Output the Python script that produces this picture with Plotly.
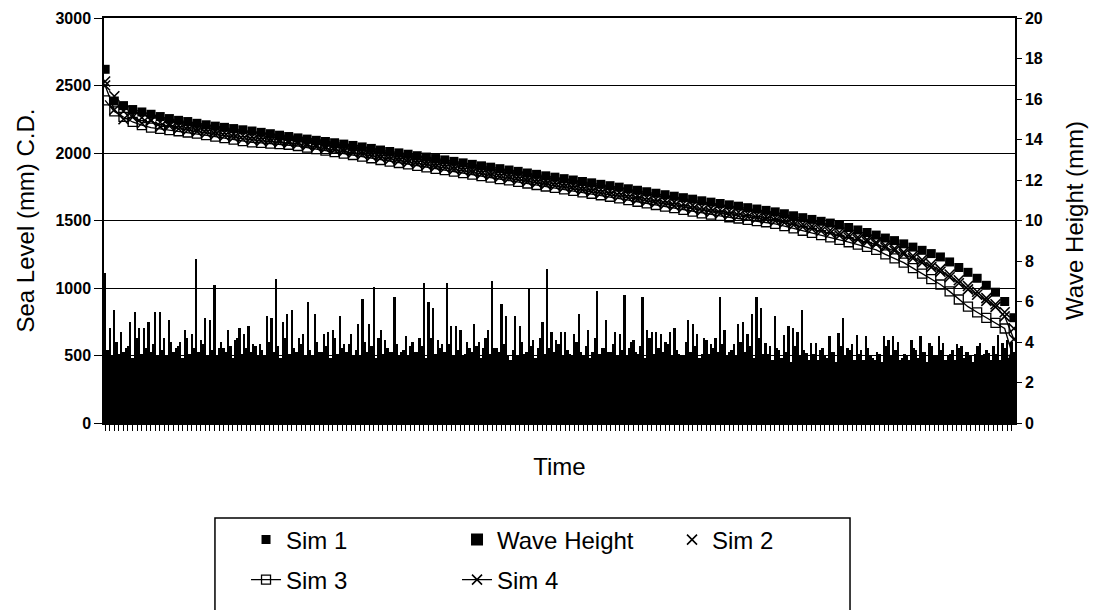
import numpy as np
import plotly.graph_objects as go

# wave height per time step (mm), read left to right
wave = [7.4, 3.6, 4.7, 3.3, 5.6, 4.0, 3.4, 4.5, 3.5, 3.7, 3.8, 5.0, 3.2, 5.5, 4.2, 4.7, 3.4, 4.7, 3.7, 5.0,
        3.5, 3.9, 5.5, 3.3, 5.5, 3.6, 4.2, 3.3, 5.1, 4.0, 3.5, 3.7, 3.8, 4.0, 3.2, 4.6, 4.2, 3.4, 4.4, 3.7,
        8.1, 3.5, 4.1, 3.9, 5.2, 3.3, 5.1, 3.6, 6.8, 3.3, 3.7, 4.0, 3.7, 3.5, 4.6, 3.8, 3.2, 4.1, 4.2, 4.7,
        3.4, 4.4, 3.7, 4.8, 3.5, 3.9, 3.8, 3.3, 3.9, 3.6, 3.3, 5.3, 4.0, 5.2, 3.5, 7.1, 3.8, 3.2, 5.0, 4.2,
        5.4, 3.4, 5.6, 3.7, 3.5, 4.2, 3.9, 4.4, 3.3, 6.0, 3.6, 3.3, 5.4, 4.0, 3.5, 3.5, 4.4, 3.8, 4.5, 3.2,
        4.6, 4.2, 3.4, 5.3, 3.7, 3.9, 3.5, 3.9, 4.4, 3.3, 3.6, 4.9, 3.3, 6.1, 4.0, 3.5, 4.9, 3.8, 6.7, 3.2,
        4.2, 4.6, 3.4, 4.1, 3.7, 3.5, 3.5, 6.2, 3.9, 3.3, 3.5, 3.6, 4.3, 3.3, 3.8, 4.0, 3.5, 3.5, 4.2, 3.8,
        6.9, 3.2, 6.0, 4.2, 5.7, 3.4, 4.1, 3.7, 3.9, 3.5,
        6.9, 3.9, 4.8, 3.3, 4.8, 3.6, 4.6, 3.3, 3.4, 4.0, 3.7, 3.5, 4.9, 3.8, 4.0, 3.2, 3.7, 4.2, 4.6, 3.4,
        7.0, 3.7, 3.7, 3.5, 5.9, 3.9, 5.3, 3.3, 3.1, 3.6, 5.3, 3.3, 4.8, 4.0, 3.4, 3.5, 6.6, 3.8, 4.1, 3.2,
        3.7, 4.2, 5.0, 3.4, 7.6, 3.7, 4.5, 3.5, 4.1, 3.9, 4.5, 3.3, 4.5, 3.6, 3.4, 3.3, 4.4, 4.0, 5.4, 3.5,
        3.3, 3.8, 4.6, 3.2, 3.5, 4.2, 6.5, 3.4, 3.7, 3.7, 5.1, 3.5, 3.5, 3.9, 4.5, 3.3, 4.4, 3.6, 6.3, 3.3,
        3.7, 4.0, 4.1, 3.5, 3.4, 3.8, 6.2, 3.2, 4.6, 4.2, 4.5, 3.4, 4.5, 3.7, 4.4, 3.5, 4.0, 3.9, 4.5, 3.3,
        4.7, 3.6, 3.4, 3.3, 3.3, 4.0, 5.1, 3.5, 4.9, 3.8, 4.4, 3.2, 3.4, 4.2, 4.1, 3.4, 3.9, 3.7, 4.2, 3.5,
        6.2, 3.9, 4.6, 3.3, 3.5, 3.6, 3.9, 3.3, 4.9, 4.0, 5.0, 3.5, 4.4, 3.8, 5.4, 3.2, 6.2, 4.2, 5.7, 3.4,
        3.95, 3.4, 3.8, 3.1, 5.3, 3.7, 3.6, 3.2, 4.35, 3.5, 4.8, 3.0, 4.7, 3.8, 4.5, 3.3, 5.6, 3.6, 3.45, 3.1,
        3.95, 3.4, 3.95, 3.1, 3.6, 3.7, 3.3, 3.2, 4.3, 3.5, 3.5, 3.0, 4.45, 3.8, 5.2, 3.3, 3.7, 3.6, 3.9, 3.1,
        4.35, 3.4, 3.6, 3.1, 4.3, 3.7, 3.3, 3.2, 3.1, 3.5, 3.4, 3.0, 4.3, 3.8, 4.1, 3.3, 4.3, 3.6, 4.0, 3.1,
        3.2, 3.4, 3.3, 3.1, 4.1, 3.7, 3.6, 3.2, 4.3, 3.5, 3.5, 3.0, 3.95, 3.8, 3.3, 3.3, 4.3, 3.6, 3.95, 3.1,
        3.3, 3.4, 3.6, 3.1, 3.9, 3.7, 3.8, 3.2, 3.5, 3.5, 3.3, 3.0, 3.4, 3.8, 3.95, 3.3, 3.4, 3.6, 3.45, 3.1,
        3.8, 3.4, 4.35, 3.1, 3.95, 3.7, 4.1, 3.2, 4.0, 3.5]

# simulated sea level (mm C.D.), 100 samples spread over the same period
sim1 = [2620, 2385, 2351, 2322, 2304, 2287, 2270, 2255, 2242, 2233, 2220, 2209, 2199, 2190, 2181, 2172, 2163, 2153, 2143, 2132,
        2122, 2112, 2103, 2094, 2085, 2076, 2066, 2056, 2045, 2034, 2022, 2011, 2001, 1991, 1980, 1970, 1959, 1949, 1938, 1927,
        1916, 1905, 1895, 1884, 1874, 1864, 1852, 1842, 1831, 1821, 1810, 1800, 1789, 1779, 1768, 1758, 1747, 1735, 1724, 1713,
        1702, 1691, 1680, 1669, 1658, 1646, 1636, 1626, 1616, 1606, 1595, 1585, 1575, 1564, 1550, 1535, 1521, 1508, 1494, 1481,
        1466, 1448, 1430, 1411, 1392, 1370, 1351, 1327, 1303, 1279, 1255, 1230, 1193, 1152, 1116, 1072, 1020, 969, 900, 780]
sim2 = [2530, 2420, 2310, 2280, 2262, 2245, 2228, 2214, 2203, 2194, 2182, 2171, 2160, 2150, 2140, 2130, 2121, 2114, 2107, 2099,
        2092, 2082, 2072, 2062, 2052, 2042, 2031, 2021, 2009, 1998, 1985, 1974, 1964, 1953, 1942, 1932, 1921, 1911, 1900, 1889,
        1878, 1867, 1857, 1846, 1836, 1825, 1813, 1803, 1792, 1781, 1771, 1760, 1749, 1739, 1728, 1717, 1706, 1693, 1682, 1670,
        1659, 1647, 1636, 1624, 1612, 1600, 1590, 1580, 1570, 1561, 1550, 1541, 1531, 1520, 1505, 1488, 1472, 1458, 1443, 1428,
        1411, 1394, 1376, 1358, 1338, 1315, 1292, 1266, 1238, 1208, 1176, 1140, 1100, 1057, 1015, 972, 925, 880, 820, 700]
sim3 = [2390, 2308, 2267, 2230, 2207, 2188, 2179, 2170, 2161, 2152, 2144, 2133, 2121, 2110, 2099, 2088, 2079, 2075, 2070, 2066,
        2061, 2052, 2040, 2029, 2018, 2007, 1996, 1985, 1973, 1961, 1948, 1936, 1926, 1915, 1904, 1894, 1883, 1873, 1862, 1851,
        1840, 1829, 1818, 1807, 1797, 1786, 1774, 1763, 1752, 1741, 1731, 1720, 1709, 1698, 1687, 1676, 1664, 1651, 1639, 1627,
        1615, 1603, 1591, 1579, 1566, 1553, 1543, 1534, 1524, 1515, 1505, 1496, 1487, 1475, 1459, 1441, 1424, 1408, 1391, 1375,
        1356, 1339, 1322, 1305, 1283, 1249, 1219, 1188, 1147, 1106, 1066, 1026, 975, 915, 862, 820, 778, 741, 700, 470]
sim4 = [2500, 2320, 2250, 2265, 2220, 2240, 2195, 2200, 2180, 2170, 2160, 2148, 2137, 2126, 2115, 2104, 2095, 2090, 2085, 2080,
        2075, 2067, 2056, 2045, 2034, 2023, 2012, 2001, 1989, 1977, 1964, 1952, 1942, 1931, 1920, 1910, 1899, 1889, 1878, 1867,
        1856, 1845, 1834, 1823, 1813, 1802, 1790, 1779, 1768, 1757, 1747, 1736, 1725, 1714, 1703, 1692, 1680, 1668, 1656, 1644,
        1632, 1620, 1608, 1596, 1584, 1572, 1562, 1553, 1544, 1535, 1526, 1517, 1508, 1497, 1483, 1467, 1452, 1437, 1422, 1407,
        1390, 1374, 1358, 1342, 1324, 1300, 1276, 1250, 1220, 1188, 1155, 1120, 1080, 1035, 990, 950, 905, 860, 790, 620]

t_wave = list(range(len(wave)))
t_sim = np.linspace(0, len(wave) - 1, len(sim1))

FONT = "Liberation Sans, Arial, sans-serif"

fig = go.Figure()

fig.add_trace(go.Bar(x=t_wave, y=wave, name="Wave Height", yaxis="y2",
                     marker=dict(color="black", line=dict(width=0)), legend="legend2"))

fig.add_trace(go.Scatter(x=t_sim, y=sim1, name="Sim 1", mode="markers",
                         marker=dict(symbol="square", size=9, color="black"), legend="legend"))
fig.add_trace(go.Scatter(x=t_sim, y=sim2, name="Sim 2", mode="markers",
                         marker=dict(symbol="x-thin-open", size=10, color="black",
                                     line=dict(width=1.6, color="black")), legend="legend3"))
fig.add_trace(go.Scatter(x=t_sim, y=sim3, name="Sim 3", mode="lines+markers",
                         line=dict(color="black", width=1.3),
                         marker=dict(symbol="square-open", size=9, color="black",
                                     line=dict(width=1.3, color="black")), legend="legend4"))
fig.add_trace(go.Scatter(x=t_sim, y=sim4, name="Sim 4", mode="lines+markers",
                         line=dict(color="black", width=1.3),
                         marker=dict(symbol="x-thin-open", size=10, color="black",
                                     line=dict(width=1.6, color="black")), legend="legend5"))


def leg(x, y):
    return dict(x=x, y=y, xanchor="left", yanchor="middle", orientation="h",
                bgcolor="rgba(0,0,0,0)", font=dict(family=FONT, size=24, color="black"))


# the page body adds an 8px offset, so margins are pulled in by 8px
fig.update_layout(
    width=1097, height=610,
    margin=dict(l=96, r=90, t=10, b=195, autoexpand=False),
    paper_bgcolor="white", plot_bgcolor="white",
    font=dict(family=FONT, color="black"),
    bargap=0,
    showlegend=True,
    legend=leg(0.1559, -0.2889),
    legend2=leg(0.3875, -0.2889),
    legend3=leg(0.6235, -0.2889),
    legend4=leg(0.1559, -0.3877),
    legend5=leg(0.3875, -0.3877),
    xaxis=dict(range=[-0.5, len(wave) - 0.5], showgrid=False, zeroline=False,
               showline=True, linecolor="black", linewidth=1.5, mirror=True,
               ticks="outside", tickmode="linear", tick0=0, dtick=2, ticklen=6,
               tickcolor="black", tickwidth=1, showticklabels=False,
               title=dict(text="Time", font=dict(size=24), standoff=28)),
    yaxis=dict(range=[0, 3000], dtick=500, showgrid=True, gridcolor="black", gridwidth=1.4,
               zeroline=False, showline=True, linecolor="black", linewidth=1.5,
               ticks="outside", ticklen=8, tickcolor="black",
               tickfont=dict(size=16, weight="bold"),
               title=dict(text="Sea Level (mm) C.D.", font=dict(size=24), standoff=14)),
    yaxis2=dict(range=[0, 20], dtick=2, overlaying="y", side="right", showgrid=False,
                zeroline=False, showline=True, linecolor="black", linewidth=1.5,
                ticks="outside", ticklen=5, tickcolor="black",
                tickfont=dict(size=16, weight="bold"),
                title=dict(text="Wave Height (mm)", font=dict(size=24), standoff=24)),
    shapes=[dict(type="rect", xref="paper", yref="paper", x0=0.1218, x1=0.8189,
                 y0=-0.2346, y1=-0.56, line=dict(color="black", width=1.5), fillcolor="rgba(0,0,0,0)")],
)

fig.write_html("out.html")
